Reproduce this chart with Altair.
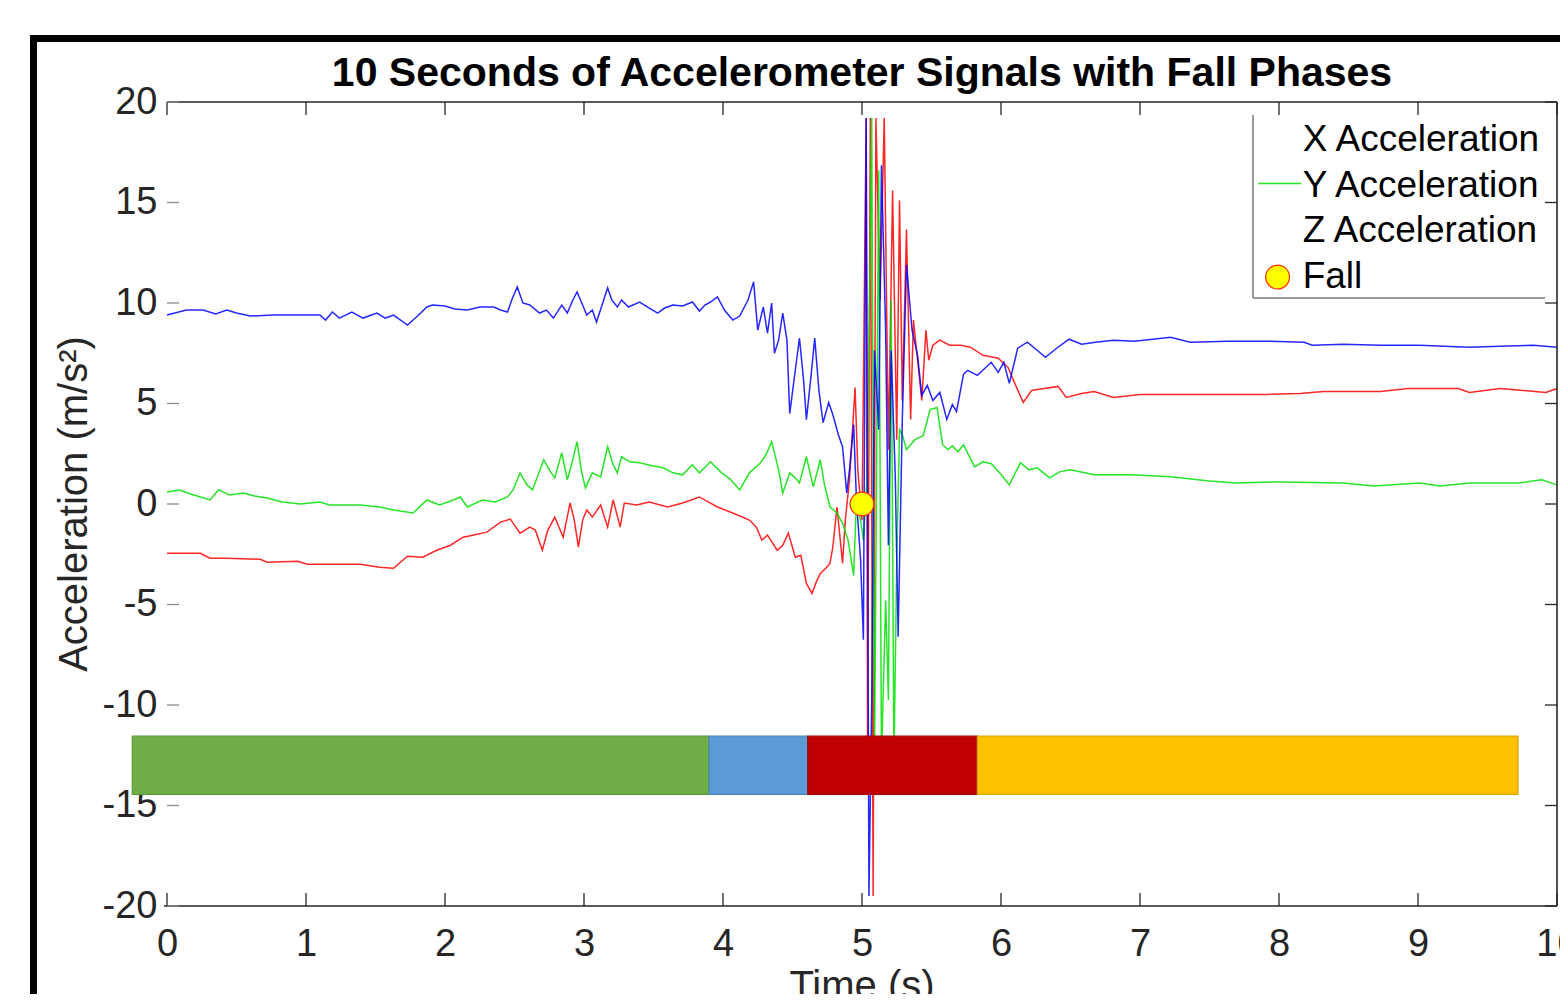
import altair as alt
import pandas as pd

# ---------------- data ----------------
x_time = [0.00, 0.24, 0.31, 0.43, 0.67, 0.72, 0.94, 1.01, 1.39, 1.53,
          1.63, 1.73, 1.84, 1.94, 2.04, 2.13, 2.20, 2.30, 2.40, 2.47,
          2.50, 2.54, 2.61, 2.65, 2.70, 2.74, 2.79, 2.85, 2.90, 2.93,
          2.96, 2.99, 3.02, 3.06, 3.12, 3.17, 3.21, 3.26, 3.29, 3.38,
          3.47, 3.60, 3.71, 3.83, 3.96, 4.07, 4.19, 4.24, 4.28, 4.32,
          4.39, 4.43, 4.47, 4.52, 4.56, 4.60, 4.64, 4.67, 4.70, 4.74,
          4.77, 4.79, 4.82, 4.86, 4.88, 4.91, 4.95, 4.97, 5.00, 5.03,
          5.04, 5.06, 5.08, 5.10, 5.13, 5.16, 5.19, 5.22, 5.25, 5.27,
          5.29, 5.32, 5.35, 5.37, 5.40, 5.43, 5.46, 5.48, 5.51, 5.56,
          5.63, 5.71, 5.78, 5.87, 5.98, 6.05, 6.09, 6.16, 6.22, 6.31,
          6.41, 6.47, 6.58, 6.67, 6.81, 7.00, 7.22, 7.58, 7.91, 8.15,
          8.32, 8.73, 8.93, 9.29, 9.37, 9.59, 9.92, 10.00]
x_accel = [-2.45, -2.45, -2.70, -2.70, -2.75, -2.90, -2.85, -3.00, -3.00, -3.15,
           -3.20, -2.60, -2.65, -2.30, -2.05, -1.65, -1.55, -1.40, -0.90, -0.75,
           -1.05, -1.45, -1.15, -1.30, -2.30, -1.30, -0.65, -1.65, 0.05, -0.80,
           -2.15, -0.80, -0.30, -0.65, -0.05, -1.15, 0.20, -1.15, 0.05, -0.05,
           0.10, -0.15, 0.05, 0.35, -0.15, -0.45, -0.80, -1.15, -1.80, -1.55,
           -2.30, -2.05, -1.45, -2.65, -2.55, -3.95, -4.45, -3.90, -3.45, -3.20,
           -2.95, -2.15, -0.15, -2.95, -0.80, 1.20, 5.80, 1.70, -0.80, 19.20,
           -11.75, 19.20, -19.50, 19.20, 10.15, 19.20, 2.70, 15.60, 3.20, 15.10,
           5.15, 13.65, 4.20, 9.15, 7.15, 5.15, 8.65, 7.15, 7.90, 8.15,
           7.90, 7.90, 7.80, 7.40, 7.25, 6.80, 6.15, 5.05, 5.65, 5.75,
           5.85, 5.30, 5.50, 5.60, 5.30, 5.45, 5.45, 5.45, 5.45, 5.50,
           5.60, 5.60, 5.75, 5.75, 5.55, 5.75, 5.55, 5.75]

y_time = [0.00, 0.09, 0.17, 0.31, 0.37, 0.45, 0.55, 0.63, 0.72, 0.83,
          0.96, 1.10, 1.17, 1.39, 1.53, 1.63, 1.77, 1.87, 1.96, 2.06,
          2.11, 2.16, 2.27, 2.36, 2.45, 2.49, 2.54, 2.59, 2.63, 2.71,
          2.76, 2.79, 2.84, 2.88, 2.91, 2.95, 2.98, 3.01, 3.06, 3.12,
          3.17, 3.21, 3.24, 3.27, 3.33, 3.40, 3.49, 3.57, 3.64, 3.71,
          3.78, 3.83, 3.91, 3.99, 4.05, 4.12, 4.19, 4.27, 4.31, 4.35,
          4.40, 4.43, 4.48, 4.52, 4.55, 4.60, 4.65, 4.70, 4.73, 4.77,
          4.82, 4.86, 4.90, 4.94, 4.96, 4.99, 5.01, 5.04, 5.07, 5.09,
          5.12, 5.14, 5.17, 5.19, 5.21, 5.23, 5.25, 5.27, 5.29, 5.32,
          5.38, 5.44, 5.49, 5.54, 5.58, 5.62, 5.65, 5.69, 5.73, 5.81,
          5.87, 5.93, 5.99, 6.06, 6.14, 6.20, 6.26, 6.35, 6.42, 6.50,
          6.67, 6.94, 7.22, 7.50, 7.69, 8.01, 8.46, 8.68, 9.01, 9.16,
          9.37, 9.73, 9.89, 10.00]
y_accel = [0.60, 0.70, 0.50, 0.20, 0.70, 0.45, 0.55, 0.40, 0.30, 0.10,
           0.00, 0.10, -0.05, -0.05, -0.15, -0.30, -0.45, 0.20, -0.05, 0.20,
           0.35, -0.15, 0.20, 0.10, 0.35, 0.70, 1.55, 0.95, 0.70, 2.20,
           1.60, 1.30, 2.55, 1.20, 1.95, 3.10, 1.70, 0.80, 1.55, 1.35,
           2.85, 1.95, 1.55, 2.35, 2.10, 2.05, 1.90, 1.80, 1.55, 1.45,
           1.95, 1.55, 2.10, 1.55, 1.25, 0.70, 1.55, 2.05, 2.45, 3.10,
           1.70, 0.55, 1.55, 1.30, 1.05, 2.35, 0.85, 2.20, 0.95, -0.15,
           -0.45, -0.95, -1.80, -3.55, 0.20, -0.80, -1.80, 1.70, 19.20, -12.75,
           16.60, -12.75, -4.80, -9.75, 10.15, -12.75, -2.80, 3.70, 3.45, 2.70,
           3.20, 3.40, 4.70, 4.80, 2.95, 2.70, 2.90, 2.60, 2.95, 1.85,
           2.10, 2.00, 1.55, 0.95, 2.05, 1.70, 1.80, 1.30, 1.60, 1.70,
           1.45, 1.45, 1.35, 1.15, 1.05, 1.10, 1.05, 0.90, 1.05, 0.90,
           1.05, 1.05, 1.20, 0.95]

z_time = [0.00, 0.14, 0.26, 0.35, 0.43, 0.50, 0.60, 0.76, 0.96, 1.10,
          1.14, 1.19, 1.24, 1.33, 1.41, 1.51, 1.57, 1.63, 1.73, 1.81,
          1.87, 1.91, 2.00, 2.07, 2.16, 2.25, 2.35, 2.40, 2.45, 2.48,
          2.52, 2.56, 2.61, 2.68, 2.73, 2.78, 2.84, 2.88, 2.92, 2.95,
          2.99, 3.02, 3.06, 3.09, 3.13, 3.17, 3.20, 3.24, 3.27, 3.32,
          3.40, 3.47, 3.53, 3.58, 3.64, 3.71, 3.78, 3.83, 3.87, 3.91,
          3.96, 4.01, 4.07, 4.12, 4.18, 4.22, 4.25, 4.29, 4.32, 4.35,
          4.37, 4.40, 4.43, 4.46, 4.48, 4.52, 4.55, 4.58, 4.60, 4.63,
          4.66, 4.69, 4.72, 4.76, 4.79, 4.83, 4.86, 4.89, 4.91, 4.94,
          4.96, 4.99, 5.01, 5.03, 5.05, 5.07, 5.09, 5.12, 5.14, 5.17,
          5.19, 5.21, 5.24, 5.26, 5.29, 5.32, 5.36, 5.40, 5.43, 5.47,
          5.51, 5.56, 5.61, 5.65, 5.68, 5.73, 5.76, 5.83, 5.93, 5.98,
          6.02, 6.06, 6.12, 6.19, 6.26, 6.32, 6.40, 6.49, 6.58, 6.68,
          6.81, 6.96, 7.22, 7.36, 7.63, 7.91, 8.18, 8.24, 8.46, 8.73,
          9.01, 9.37, 9.59, 9.83, 10.00]
z_accel = [9.40, 9.65, 9.65, 9.45, 9.65, 9.50, 9.35, 9.40, 9.40, 9.40,
           9.15, 9.55, 9.25, 9.55, 9.25, 9.50, 9.25, 9.40, 8.90, 9.40,
           9.80, 9.90, 9.85, 9.70, 9.65, 9.80, 9.80, 9.65, 9.55, 10.15,
           10.80, 10.00, 9.90, 9.50, 9.65, 9.25, 9.90, 9.50, 10.15, 10.55,
           9.90, 9.40, 9.65, 9.05, 9.90, 10.75, 10.15, 9.80, 10.15, 9.80,
           10.05, 9.75, 9.50, 9.75, 9.90, 9.85, 10.05, 9.60, 9.90, 10.05,
           10.30, 9.65, 9.15, 9.35, 10.15, 11.05, 8.65, 9.80, 8.50, 10.00,
           7.50, 8.15, 9.50, 8.15, 4.50, 6.65, 8.25, 6.15, 4.20, 6.15,
           8.25, 5.65, 4.05, 5.05, 4.45, 3.45, 2.85, 0.55, 1.70, 3.95,
           0.20, -2.80, -6.75, 19.20, -19.50, -9.75, 7.65, 3.70, 16.85, 8.65,
           -2.05, 7.65, 1.20, -6.60, 4.20, 11.90, 8.65, 7.40, 5.40, 5.90,
           5.15, 5.55, 4.20, 4.95, 4.60, 6.45, 6.65, 6.40, 7.05, 6.55,
           7.05, 6.00, 7.75, 8.05, 7.65, 7.30, 7.75, 8.20, 7.95, 8.05,
           8.15, 8.10, 8.30, 8.05, 8.10, 8.10, 8.05, 7.90, 7.95, 7.90,
           7.90, 7.80, 7.85, 7.90, 7.80]

phase_names = ["Pre-fall", "Falling", "Impact", "Post-fall"]
phase_start = [-0.25, 3.90, 4.61, 5.83]
phase_end = [3.90, 4.61, 5.83, 9.72]
phase_top = -11.55
phase_bottom = -14.45
phase_colors = ["#70AD47", "#5B9BD5", "#C00000", "#FFC000"]
phase_edges = ["#5E963A", "#4A86BE", "#A50000", "#DDA600"]

fall_time = [5.0]
fall_accel = [0.0]

legend_labels = ["X Acceleration", "Y Acceleration", "Z Acceleration", "Fall"]
x_ticks = list(range(0, 11))
y_ticks = [-20, -15, -10, -5, 0, 5, 10, 15, 20]

# ---------------- chart ----------------
W, H = 1390, 804
FONT = "Liberation Sans"
AX = "#262626"

xs = alt.Scale(domain=[0, 10], nice=False, zero=False)
ys = alt.Scale(domain=[-20, 20], nice=False, zero=False)
xaxis = alt.Axis(values=x_ticks, labelFontSize=38, labelColor=AX, labelFont=FONT,
                 ticks=False, tickSize=0, domain=False, grid=False, labelPadding=19,
                 title="", labelFlush=False, labelOverlap=False,
                 labelExpr="'' + datum.value")
yaxis = alt.Axis(values=y_ticks, labelFontSize=38, labelColor=AX, labelFont=FONT,
                 ticks=False, tickSize=0, domain=False, grid=False, labelPadding=10,
                 title="", labelFlush=False, labelOverlap=False,
                 labelExpr="'' + datum.value")


def X(f):
    return alt.X(f, type="quantitative", scale=xs, axis=xaxis)


def Y(f):
    return alt.Y(f, type="quantitative", scale=ys, axis=yaxis)


def series(t, v, color):
    df = pd.DataFrame({"t": t, "v": v})
    return alt.Chart(df).mark_line(color=color, strokeWidth=1.5, opacity=0.85,
                                   interpolate="linear").encode(x=X("t"), y=Y("v"))


line_x = series(x_time, x_accel, "#FF0000")
line_y = series(y_time, y_accel, "#00E000")
line_z = series(z_time, z_accel, "#0000FF")

fall_df = pd.DataFrame({"t": fall_time, "v": fall_accel})
fall_pt = alt.Chart(fall_df).mark_point(shape="circle", filled=True, size=570,
                                         fill="#FFFF00", stroke="#FF2A00",
                                         strokeWidth=1.2, opacity=1).encode(x=X("t"), y=Y("v"))

phase_df = pd.DataFrame({"name": phase_names, "s": phase_start, "e": phase_end,
                         "top": [phase_top] * 4, "bot": [phase_bottom] * 4})
bars = alt.Chart(phase_df).mark_rect(strokeWidth=1.2).encode(
    x=X("s"), x2="e", y=Y("top"), y2="bot",
    color=alt.Color("name:N", scale=alt.Scale(domain=phase_names, range=phase_colors), legend=None),
    stroke=alt.Stroke("name:N", scale=alt.Scale(domain=phase_names, range=phase_edges), legend=None),
)

# axis box (top, bottom, right) and inward ticks
one = pd.DataFrame({"a": [0]})
box_top = alt.Chart(one).mark_rule(color=AX, strokeWidth=1.6).encode(
    x=alt.value(0), x2=alt.value(W), y=alt.value(0))
box_bot = alt.Chart(one).mark_rule(color=AX, strokeWidth=1.6).encode(
    x=alt.value(-3), x2=alt.value(W), y=alt.value(H))
box_right = alt.Chart(one).mark_rule(color=AX, strokeWidth=1.6).encode(
    x=alt.value(W), y=alt.value(0), y2=alt.value(H))

xt = pd.DataFrame({"t": x_ticks})
yt = pd.DataFrame({"v": y_ticks})
tick_bot = alt.Chart(xt).mark_rule(color=AX, strokeWidth=1.3).encode(
    x=X("t"), y=alt.value(H), y2=alt.value(H - 13))
tick_top = alt.Chart(xt).mark_rule(color=AX, strokeWidth=1.3).encode(
    x=X("t"), y=alt.value(0), y2=alt.value(13))
tick_left = alt.Chart(yt).mark_rule(color="#8a8a8a", strokeWidth=1.3).encode(
    y=Y("v"), x=alt.value(0), x2=alt.value(12))
tick_right = alt.Chart(yt).mark_rule(color=AX, strokeWidth=1.3).encode(
    y=Y("v"), x=alt.value(W - 12), x2=alt.value(W))

# legend (placed in data coordinates)
leg_df = pd.DataFrame({"label": legend_labels, "lx": [8.17] * 4,
                       "ly": [18.11, 15.82, 13.58, 11.29]})
leg_text = alt.Chart(leg_df).mark_text(align="left", baseline="middle", fontSize=37,
                                       font=FONT, color="#000000").encode(
    x=X("lx"), y=Y("ly"), text="label:N")
leg_line_df = pd.DataFrame({"a": [7.85], "b": [8.16], "v": [15.95]})
leg_line = alt.Chart(leg_line_df).mark_rule(color="#00E000", strokeWidth=1.5, opacity=0.85).encode(
    x=X("a"), x2="b", y=Y("v"))
leg_pt_df = pd.DataFrame({"t": [7.99], "v": [11.29]})
leg_pt = alt.Chart(leg_pt_df).mark_point(shape="circle", filled=True, size=570,
                                         fill="#FFFF00", stroke="#FF2A00",
                                         strokeWidth=1.2, opacity=1).encode(x=X("t"), y=Y("v"))
leg_box_df = pd.DataFrame({"x0": [7.813], "x1": [9.914], "y0": [10.25], "y1": [19.35]})
leg_left = alt.Chart(leg_box_df).mark_rule(color="#7a7a7a", strokeWidth=1.5).encode(
    x=X("x0"), y=Y("y0"), y2="y1")
leg_bottom = alt.Chart(leg_box_df).mark_rule(color="#7a7a7a", strokeWidth=1.5).encode(
    x=X("x0"), x2="x1", y=Y("y0"))

# texts: title and axis titles
title = alt.Chart(one).mark_text(text="10 Seconds of Accelerometer Signals with Fall Phases",
                                 fontSize=41, fontWeight="bold", font=FONT, color="#000000",
                                 align="center", baseline="alphabetic").encode(
    x=alt.value(W / 2), y=alt.value(-16))
xtitle = alt.Chart(one).mark_text(text="Time (s)", fontSize=40, font=FONT, color=AX,
                                  align="center", baseline="alphabetic").encode(
    x=alt.value(W / 2), y=alt.value(897))
ytitle = alt.Chart(one).mark_text(text="Acceleration (m/s²)", fontSize=40, font=FONT, color=AX,
                                  align="center", baseline="middle", angle=270).encode(
    x=alt.value(-92), y=alt.value(H / 2))

# outer black frame of the figure
frame_top = alt.Chart(one).mark_rule(color="#000000", strokeWidth=7).encode(
    x=alt.value(-137), x2=alt.value(W + 40), y=alt.value(-63.5))
frame_left = alt.Chart(one).mark_rule(color="#000000", strokeWidth=7).encode(
    x=alt.value(-133.5), y=alt.value(-67), y2=alt.value(H + 120))

chart = alt.layer(
    line_x, line_y, line_z, fall_pt, bars,
    box_top, box_bot, box_right, tick_bot, tick_top, tick_left, tick_right,
    leg_left, leg_bottom, leg_text, leg_line, leg_pt,
    title, xtitle, ytitle, frame_top, frame_left,
).properties(
    width=W, height=H,
    autosize=alt.AutoSizeParams(type="none"),
    padding={"left": 159, "top": 94, "right": 3, "bottom": 88},
    background="#FFFFFF",
).configure_view(strokeWidth=0)

chart.save("out.html", embed_options={"renderer": "svg", "actions": False})
